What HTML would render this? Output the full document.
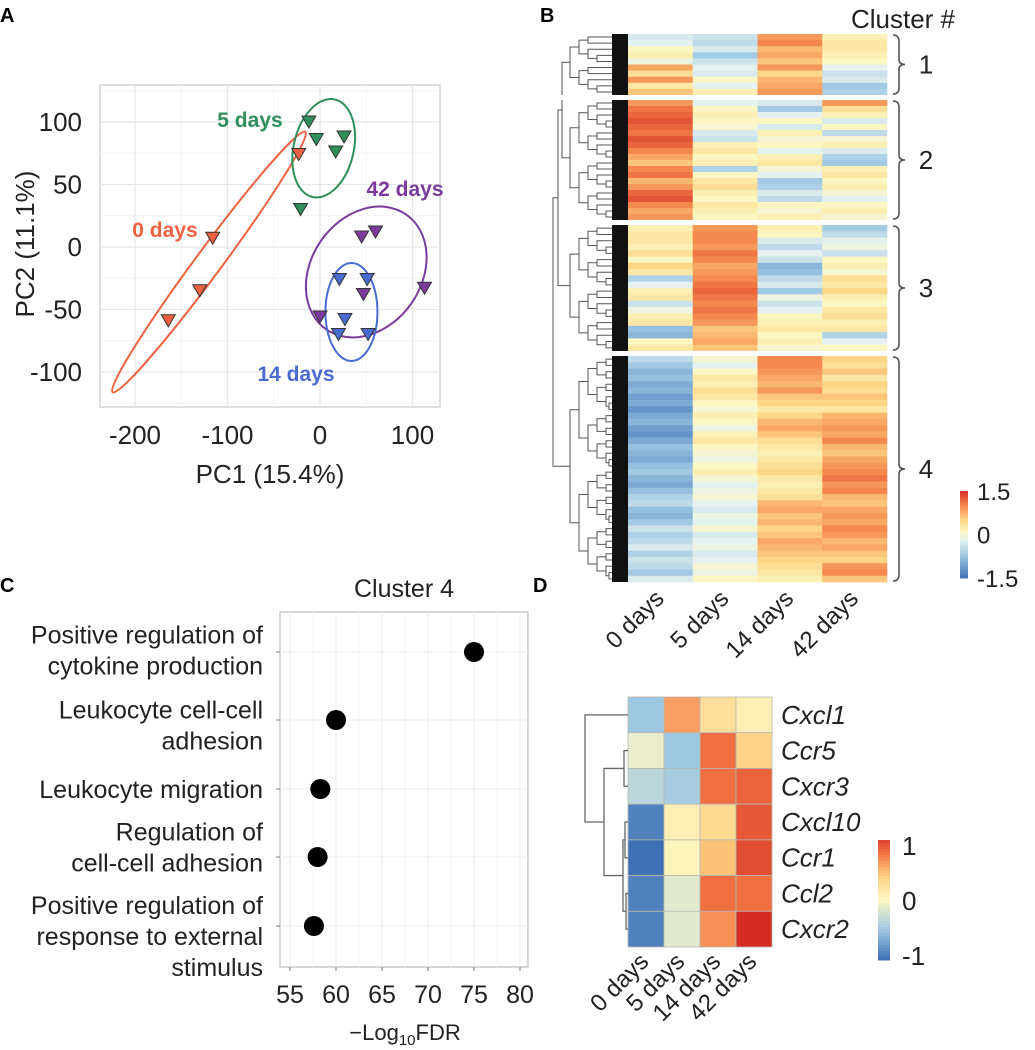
<!DOCTYPE html>
<html><head><meta charset="utf-8">
<style>
html,body{margin:0;padding:0;background:#fff;}
svg{display:block;font-family:"Liberation Sans",Arial,sans-serif;}
</style></head>
<body>
<svg id="fig" width="1035" height="1050" viewBox="0 0 1035 1050" xmlns="http://www.w3.org/2000/svg">
<g id="pA"></g>
<g id="pB"></g>
<g id="pC"></g>
<g id="pD"></g>
</svg>
<script>
// ---------- Panel A data ----------
const groupNames = ["0 days","5 days","42 days","14 days"];
const groupColors = ["#f0623f","#2f8f5a","#7a3b9a","#4a6cd0"];
const pc1_0days = [-116,-130,-164,-23];
const pc2_0days = [7,-35,-59,74];
const pc1_5days = [-12,-4,17,26,-21];
const pc2_5days = [100,86,76,88,30];
const pc1_42days = [45,60,47,113,0];
const pc2_42days = [8,12,-38,-33,-56];
const pc1_14days = [21,51,27,20,52];
const pc2_14days = [-26,-26,-58,-70,-70];
const ellipseCx = [-120,4,50,34];
const ellipseCy = [-12,79,-20,-52];
const xTicksA = [-200,-100,0,100];
const yTicksA = [100,50,0,-50,-100];

// ---------- Panel B data (rows per cluster, columns 0/5/14/42 days) ----------
const timeLabels = ["0 days","5 days","14 days","42 days"];
const cluster1Cols = [
 [-0.3,-0.2,0.1,0.2,-0.1,0.8,0.4,0.9,0.3,0.6],
 [-0.4,-0.5,-0.3,-0.7,-0.4,-0.2,-0.3,0.1,-0.2,0.2],
 [0.9,1.0,0.7,0.8,0.6,0.9,0.5,0.7,0.8,0.9],
 [0.2,0.3,0.3,0.2,0.1,-0.2,-0.4,-0.3,-0.7,-0.6]];
const cluster2Cols = [
 [0.9,1.1,1.2,1.3,1.2,1.1,1.3,1.2,1.0,0.8,0.6,1.0,1.1,0.7,0.9,1.2,1.3,1.0,0.8,0.9],
 [-0.2,0.1,0.2,0.1,0.0,-0.3,-0.4,0.2,0.3,0.1,0.2,-0.6,0.1,0.3,0.4,0.2,0.1,0.3,0.2,0.1],
 [-0.3,-0.7,-0.2,0.1,-0.3,0.2,0.0,0.1,-0.2,0.2,0.3,0.0,-0.2,-0.7,-0.6,-0.3,-0.5,0.1,0.0,0.2],
 [0.9,0.4,0.2,-0.3,0.1,-0.5,0.0,0.2,-0.3,-0.6,-0.7,0.2,0.3,0.1,0.2,0.0,-0.2,0.1,0.2,0.0]];
const cluster3Cols = [
 [0.2,0.3,0.3,0.2,0.4,0.1,0.5,0.3,-0.6,-0.2,0.2,0.3,-0.4,-0.1,0.2,0.3,-0.8,-0.9,0.1,0.3],
 [0.9,1.0,1.0,0.9,1.1,1.0,0.8,0.9,1.0,1.1,1.2,1.1,1.0,1.1,1.0,0.9,0.6,0.7,0.8,0.6],
 [0.2,0.1,-0.3,-0.5,-0.2,-0.4,-0.9,-0.8,-0.5,-0.3,-0.7,-0.1,-0.4,-0.2,0.1,0.2,0.3,0.1,0.2,0.0],
 [-0.7,-0.5,-0.2,-0.1,-0.4,0.1,0.2,0.0,0.4,0.3,0.5,0.2,0.1,0.3,0.4,0.2,0.3,-0.6,-0.2,0.1]];
const cluster4Cols = [
 [-0.5,-0.7,-0.9,-0.8,-1.0,-0.9,-1.1,-1.0,-1.2,-1.0,-0.9,-1.1,-1.2,-1.0,-0.8,-0.9,-1.0,-0.8,-0.7,-0.9,-1.0,-0.8,-0.6,-0.5,-0.8,-0.9,-0.7,-0.4,-0.6,-0.5,-0.3,-0.6,-0.4,-0.5,-0.7,-0.3],
 [0.0,-0.2,0.1,0.3,0.2,0.4,0.3,0.1,0.0,0.2,0.1,-0.1,0.2,0.3,0.1,0.0,-0.1,0.1,0.2,0.0,-0.2,-0.1,0.0,-0.2,-0.3,-0.1,-0.2,0.0,-0.3,-0.2,-0.1,-0.3,-0.2,0.0,-0.1,0.1],
 [1.0,1.0,0.9,0.8,0.7,0.9,0.6,0.5,0.3,0.5,0.7,0.8,0.6,0.4,0.3,0.2,0.3,0.4,0.5,0.3,0.2,0.3,0.4,0.7,0.8,0.6,0.7,0.5,0.6,0.8,0.7,0.6,0.5,0.4,0.3,0.2],
 [0.5,0.4,0.6,0.3,0.5,0.4,0.6,0.5,0.3,0.7,0.8,0.9,0.8,1.0,0.7,0.6,0.8,0.9,1.0,1.1,0.9,1.0,0.7,0.6,0.8,0.9,0.8,1.0,0.9,0.7,0.8,0.6,0.5,0.9,1.0,0.6]];
const clusterLabels = ["1","2","3","4"];
const colorbarBTicks = [1.5,0,-1.5];

// ---------- Panel C data ----------
const goTerms = [
 ["Positive regulation of","cytokine production"],
 ["Leukocyte cell-cell","adhesion"],
 ["Leukocyte migration"],
 ["Regulation of","cell-cell adhesion"],
 ["Positive regulation of","response to external","stimulus"]];
const goFDR = [75,60,58.3,58,57.6];
const xTicksC = [55,60,65,70,75,80];

// ---------- Panel D data ----------
const genes = ["Cxcl1","Ccr5","Cxcr3","Cxcl10","Ccr1","Ccl2","Cxcr2"];
const geneDay0 = [-0.5,-0.1,-0.35,-0.9,-1.05,-0.9,-0.9];
const geneDay5 = [0.6,-0.5,-0.45,0.1,0.05,-0.15,-0.15];
const geneDay14 = [0.25,0.8,0.8,0.3,0.45,0.8,0.65];
const geneDay42 = [0.1,0.35,0.85,0.9,0.95,0.8,1.1];
const colorbarDTicks = [1,0,-1];

const NS="http://www.w3.org/2000/svg";
function mk(tag, parent, attrs){const e=document.createElementNS(NS,tag);for(const k in attrs)e.setAttribute(k,attrs[k]);parent.appendChild(e);return e;}
function txt(parent, s, attrs){const e=mk('text',parent,attrs);e.textContent=s;return e;}
function lerp(a,b,t){return a+(b-a)*t;}
function hex(c){return [parseInt(c.slice(1,3),16),parseInt(c.slice(3,5),16),parseInt(c.slice(5,7),16)];}
function cmap(stops,v){
  if(v<=stops[0][0])return stops[0][1];
  for(let i=1;i<stops.length;i++){if(v<=stops[i][0]){const t=(v-stops[i-1][0])/(stops[i][0]-stops[i-1][0]);const a=hex(stops[i-1][1]),b=hex(stops[i][1]);return `rgb(${Math.round(lerp(a[0],b[0],t))},${Math.round(lerp(a[1],b[1],t))},${Math.round(lerp(a[2],b[2],t))})`;}}
  return stops[stops.length-1][1];
}
const stopsB=[[-1.5,'#3f72b5'],[-0.75,'#9cc6e2'],[-0.2,'#e6f2f0'],[0.1,'#fcf7c2'],[0.5,'#fdd687'],[1.0,'#f4884d'],[1.5,'#d73027']];
const stopsD=[[-1,'#3e70b3'],[-0.5,'#9ec7e2'],[0,'#fdf8c6'],[0.4,'#fdcf80'],[0.75,'#f37a48'],[1.1,'#d42b22']];

// ---------- Panel labels ----------
const fig=document.getElementById('fig');
[['A',0,22],['B',540,22],['C',0,592],['D',533,592]].forEach(p=>{
  const t=txt(fig,p[0],{x:p[1],y:p[2],'font-size':20,'font-weight':'bold'});
  
  
});

// ---------- Panel A ----------
(function(){
  const g=document.getElementById('pA');
  const L=100,R=440,T=85,B=407;
  const sx=x=>320+0.925*x, sy=y=>247-1.25*y;
  const bg=mk('rect',g,{x:L,y:T,width:R-L,height:B-T,fill:'#fff',stroke:'#d4d4d4','stroke-width':1.5});
  
  for(let i=0;i<xTicksA.length;i++){const xm=sx(xTicksA[i]+50);if(xm<R)mk('line',g,{x1:xm,x2:xm,y1:T,y2:B,stroke:'#f3f3f3','stroke-width':1});}
  for(let i=0;i<yTicksA.length;i++){const ym=sy(yTicksA[i]-25);if(ym<B&&ym>T)mk('line',g,{x1:L,x2:R,y1:ym,y2:ym,stroke:'#f3f3f3','stroke-width':1});}
  mk('line',g,{x1:L,x2:R,y1:sy(125),y2:sy(125),stroke:'#f3f3f3'});
  xTicksA.forEach(v=>{mk('line',g,{x1:sx(v),x2:sx(v),y1:T,y2:B,stroke:'#e6e6e6','stroke-width':1.2});
    const t=txt(g,String(v),{x:sx(v),y:444,'font-size':26,'text-anchor':'middle',fill:'#222'});
    });
  yTicksA.forEach(v=>{mk('line',g,{x1:L,x2:R,y1:sy(v),y2:sy(v),stroke:'#e6e6e6','stroke-width':1.2});
    const t=txt(g,String(v),{x:82,y:sy(v)+9,'font-size':26,'text-anchor':'end',fill:'#222'});
    });
  const xt=txt(g,'PC1 (15.4%)',{x:270,y:483,'font-size':26,'text-anchor':'middle',fill:'#222'});
  
  const yt=txt(g,'PC2 (11.1%)',{x:0,y:0,'font-size':26,'text-anchor':'middle',fill:'#222',transform:'translate(34,244) rotate(-90)'});
  
  const ellShape=[[162,13,-53.5],[30,50,13],[55,70,35],[26,49,0]];
  ellipseCx.forEach((cx,i)=>{
    const e=mk('ellipse',g,{cx:sx(cx),cy:sy(ellipseCy[i]),rx:ellShape[i][0],ry:ellShape[i][1],fill:'none',stroke:groupColors[i],'stroke-width':2,
      transform:`rotate(${ellShape[i][2]} ${sx(cx)} ${sy(ellipseCy[i])})`});
    
  });
  const xs=[pc1_0days,pc1_5days,pc1_42days,pc1_14days], ys=[pc2_0days,pc2_5days,pc2_42days,pc2_14days];
  xs.forEach((arr,gi)=>arr.forEach((x,j)=>{
    const px=sx(x),py=sy(ys[gi][j]);
    const p=mk('polygon',g,{points:`${px-7},${py-6} ${px+7},${py-6} ${px},${py+6}`,fill:groupColors[gi],stroke:'#333','stroke-width':1});
    
  }));
  const labPos=[[165,237],[250,127],[405,196],[296,381]];
  groupNames.forEach((n,i)=>{
    const t=txt(g,n,{x:labPos[i][0],y:labPos[i][1],'font-size':21,'font-weight':'bold','text-anchor':'middle',fill:groupColors[i]});
    
  });
})();

// ---------- Panel B ----------
(function(){
  const g=document.getElementById('pB');
  const X0=628,X1=887,cw=(X1-X0)/4;
  const ranges=[[34,95],[100,220],[225,351],[356,582]];
  const clusters=[cluster1Cols,cluster2Cols,cluster3Cols,cluster4Cols];
  const nodes=[];
  clusters.forEach((cols,ci)=>{
    const n=cols[0].length,[y0,y1]=ranges[ci],rh=(y1-y0)/n;
    for(let r=0;r<n;r++){
      for(let c=0;c<4;c++){
        const rc=mk('rect',g,{x:X0+c*cw,y:y0+r*rh,width:cw+0.3,height:rh+0.3,fill:cmap(stopsB,cols[c][r])});
        
      }
    }
    const bx=893,my=(y0+y1)/2;
    const br=mk('path',g,{d:`M${bx},${y0+1} q6,0 6,6 L${bx+6},${my-5} q0,5 6,5 q-6,0 -6,5 L${bx+6},${y1-7} q0,6 -6,6`,fill:'none',stroke:'#555','stroke-width':1.6});
    
    const t=txt(g,clusterLabels[ci],{x:926,y:my+9,'font-size':26,'text-anchor':'middle',fill:'#222'});
    
    function build(a,b,d){
      if(b-a<=1){return {y:y0+(a+0.5)*rh,x:612};}
      const m=Math.floor((a+b)/2),l=build(a,m,d+1),r=build(m,b,d+1);
      const x=Math.max(556+14+d*9,556);const xx=Math.min(x,Math.min(l.x,r.x)-3);
      mk('path',g,{d:`M${l.x},${l.y} H${xx} V${r.y} H${r.x}`,fill:'none',stroke:'#555','stroke-width':1});
      return {x:xx,y:(l.y+r.y)/2};
    }
    nodes.push(build(0,n,0));
  });
  function join(a,b,x){mk('path',g,{d:`M${a.x},${a.y} H${x} V${b.y} H${b.x}`,fill:'none',stroke:'#555','stroke-width':1});return {x:x,y:(a.y+b.y)/2};}
  const j12=join(nodes[0],nodes[1],562), j123=join(j12,nodes[2],558), root=join(j123,nodes[3],553);
  const leaf=mk('rect',g,{x:612,y:34,width:16,height:548,fill:'#111'});
  
  for(let i=0;i<3;i++){mk('rect',g,{x:560,y:ranges[i][1],width:330,height:ranges[i+1][0]-ranges[i][1],fill:'#fff'});}
  const ct=txt(g,'Cluster #',{x:903,y:28,'font-size':26,'text-anchor':'middle',fill:'#222'});
  
  timeLabels.forEach((s,i)=>{
    const cx=X0+(i+0.5)*cw+5;
    const t=txt(g,s,{x:0,y:0,'font-size':24,'text-anchor':'end',fill:'#222',transform:`translate(${cx},${600}) rotate(-45)`});
    
  });
  const cbT=491,cbB=578,n=40;
  for(let i=0;i<n;i++){const v=lerp(1.5,-1.5,(i+0.5)/n);mk('rect',g,{x:960,y:cbT+i*(cbB-cbT)/n,width:8,height:(cbB-cbT)/n+0.5,fill:cmap(stopsB,v)});}
  colorbarBTicks.forEach(v=>{const y=cbT+(1.5-v)/3*(cbB-cbT);
    const t=txt(g,String(v),{x:977,y:y+9,'font-size':24,fill:'#222'});
    });
})();

// ---------- Panel C ----------
(function(){
  const g=document.getElementById('pC');
  const L=280,R=528,T=612,B=967;
  const sx=v=>290+(v-55)*(520-290)/25;
  const rowsY=[652,720,789,857,926];
  const labelCenters=[651,726,790,848,937];
  mk('rect',g,{x:L,y:T,width:R-L,height:B-T,fill:'#fff',stroke:'#c8c8c8','stroke-width':1.5});
  xTicksC.forEach((v,i)=>{mk('line',g,{x1:sx(v),x2:sx(v),y1:T,y2:B,stroke:'#ececec'});
    if(i<xTicksC.length-1)mk('line',g,{x1:sx(v+2.5),x2:sx(v+2.5),y1:T,y2:B,stroke:'#f6f6f6'});
    mk('line',g,{x1:sx(v),x2:sx(v),y1:B,y2:B+4,stroke:'#777'});
    const t=txt(g,String(v),{x:sx(v),y:1003,'font-size':25,'text-anchor':'middle',fill:'#222'});
    });
  goTerms.forEach((lines,i)=>{
    const y=rowsY[i];
    mk('line',g,{x1:L,x2:R,y1:y,y2:y,stroke:'#ececec'});
    mk('line',g,{x1:L-4,x2:L,y1:y,y2:y,stroke:'#777'});
    const lh=31,start=labelCenters[i]-(lines.length-1)*lh/2+8;
    lines.forEach((s,k)=>{const t=txt(g,s,{x:263,y:start+k*lh,'font-size':25,'text-anchor':'end',fill:'#222'});
      });
    const c=mk('circle',g,{cx:sx(goFDR[i]),cy:y,r:10,fill:'#000'});
    
  });
  const tt=txt(g,'Cluster 4',{x:404,y:597,'font-size':25,'text-anchor':'middle',fill:'#222'});
  
  const xt=mk('text',g,{x:405,y:1040,'font-size':22,'text-anchor':'middle',fill:'#222'});
  
  xt.innerHTML='−Log<tspan font-size="15" dy="5">10</tspan><tspan dy="-5">FDR</tspan>';
})();

// ---------- Panel D ----------
(function(){
  const g=document.getElementById('pD');
  const X0=628,X1=772,Y0=697,Y1=947,cw=(X1-X0)/4,rh=(Y1-Y0)/genes.length;
  const cols=[geneDay0,geneDay5,geneDay14,geneDay42];
  genes.forEach((gn,r)=>{
    cols.forEach((col,c)=>{
      const rc=mk('rect',g,{x:X0+c*cw,y:Y0+r*rh,width:cw,height:rh,fill:cmap(stopsD,col[r]),stroke:'#b8b8b0','stroke-width':0.8});
      
    });
    const t=txt(g,gn,{x:781,y:Y0+(r+0.5)*rh+9,'font-size':26,'font-style':'italic',fill:'#222'});
    
  });
  const ry=r=>Y0+(r+0.5)*rh;
  const st={fill:'none',stroke:'#666','stroke-width':1.3};
  function p(d){mk('path',g,Object.assign({d:d},st));}
  p(`M${X0},${ry(1)} H624 V${ry(2)} H${X0}`);
  p(`M${X0},${ry(3)} H625 V${ry(4)} H${X0}`);
  p(`M${X0},${ry(5)} H626 V${ry(6)} H${X0}`);
  const a=(ry(3)+ry(4))/2,b=(ry(5)+ry(6))/2;
  p(`M625,${a} H623 V${b} H626`);
  const c=(a+b)/2,d=(ry(1)+ry(2))/2;
  p(`M624,${d} H604 V${c} H623`);
  p(`M${X0},${ry(0)} H585 V${(d+c)/2} H604`);
  timeLabels.forEach((s,i)=>{
    const t=txt(g,s,{x:0,y:0,'font-size':24,'text-anchor':'end',fill:'#222',transform:`translate(${X0+(i+0.5)*cw+4},${963}) rotate(-45)`});
    
  });
  const cbT=840,cbB=960,n=40;
  for(let i=0;i<n;i++){const v=lerp(1,-1,(i+0.5)/n);mk('rect',g,{x:878,y:cbT+i*(cbB-cbT)/n,width:12,height:(cbB-cbT)/n+0.5,fill:cmap(stopsD,v)});}
  colorbarDTicks.forEach(v=>{const y=cbT+5+(1-v)/2*(cbB-cbT-10);
    const t=txt(g,String(v),{x:902,y:y+10,'font-size':26,fill:'#222'});
    });
})();
</script>
</body></html>
